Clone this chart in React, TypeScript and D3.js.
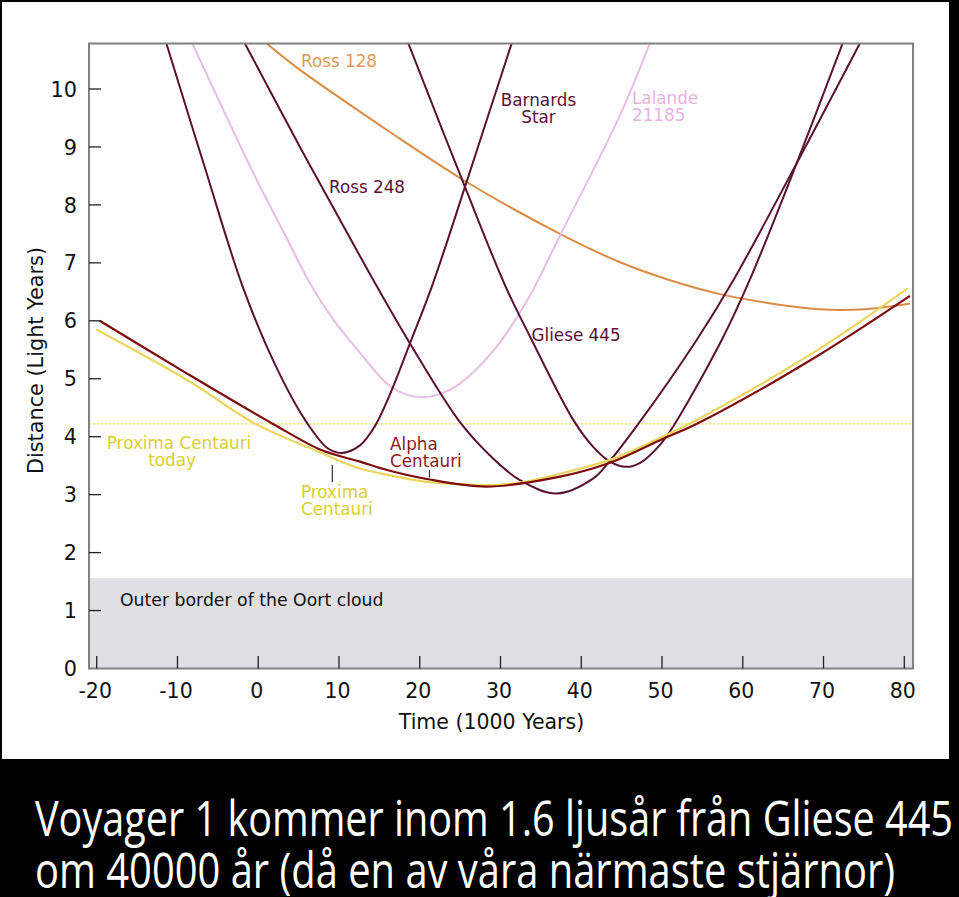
import React from "react";
import * as d3 from "d3";

// ---- Data (time in 1000 years, distance in light years) ----
const xTicks = [-20, -10, 0, 10, 20, 30, 40, 50, 60, 70, 80];
const yTicks = [0, 1, 2, 3, 4, 5, 6, 7, 8, 9, 10];

const ross128: [number, number][] = [
  [1.0, 10.79], [5.17, 10.33], [13.43, 9.53], [16.07, 9.28], [25.39, 8.43],
  [37.37, 7.5], [44.8, 7.01], [51.0, 6.7], [57.18, 6.46], [63.5, 6.3],
  [69.56, 6.2], [75.0, 6.2], [80.7, 6.3],
];

const barnardsStar: [number, number][] = [
  [-11.38, 10.79], [-6.6, 8.64], [-1.9, 6.58], [2.0, 5.27], [5.8, 4.29],
  [8.6, 3.8], [10.3, 3.72], [12.6, 3.85], [14.4, 4.17], [16.1, 4.66],
  [18.79, 5.61], [21.6, 6.63], [25.6, 8.31], [29.1, 9.81], [31.39, 10.79],
];

const lalande21185: [number, number][] = [
  [-8.16, 10.79], [-0.5, 8.52], [3.0, 7.57], [6.6, 6.6], [9.5, 5.98],
  [12.3, 5.5], [16.07, 4.9], [18.3, 4.73], [20.35, 4.68], [22.4, 4.73],
  [25.0, 4.92], [29.1, 5.48], [33.3, 6.35], [37.4, 7.48], [44.8, 9.55],
  [48.5, 10.79],
];

const ross248: [number, number][] = [
  [-1.67, 10.79], [5.17, 9.0], [7.8, 8.33], [14.83, 6.56], [18.79, 5.61],
  [24.98, 4.25], [29.11, 3.62], [32.41, 3.25], [36.96, 3.02], [41.49, 3.28],
  [43.35, 3.55], [47.06, 4.22], [54.29, 5.67], [58.83, 6.7], [66.68, 8.72],
  [74.51, 10.79],
];

const gliese445: [number, number][] = [
  [18.58, 10.79], [25.6, 8.31], [30.6, 6.6], [33.65, 5.73], [39.01, 4.29],
  [41.5, 3.82], [43.56, 3.57], [45.5, 3.48], [47.3, 3.55], [49.75, 3.86],
  [51.4, 4.18], [57.39, 5.67], [60.9, 6.72], [66.68, 8.72], [72.37, 10.79],
];

const proximaCentauri: [number, number][] = [
  [-20.05, 5.85], [-8.7, 4.97], [-0.44, 4.23], [7.8, 3.72], [12.6, 3.45],
  [16.07, 3.34], [20.86, 3.22], [25.0, 3.18], [28.29, 3.16], [33.0, 3.22],
  [37.37, 3.36], [43.56, 3.6], [49.75, 3.98], [54.7, 4.32], [68.73, 5.45],
  [80.42, 6.56],
];

const alphaCentauri: [number, number][] = [
  [-19.63, 6.0], [-8.7, 5.08], [1.83, 4.22], [7.81, 3.77], [12.6, 3.57],
  [16.07, 3.42], [20.86, 3.27], [28.29, 3.14], [37.37, 3.31], [43.56, 3.55],
  [49.75, 3.94], [54.7, 4.25], [68.73, 5.35], [80.7, 6.43],
];

const oortCloudEdge = 1.56;
const proximaToday = 4.22;

const xTitle = "Time (1000 Years)";
const yTitle = "Distance (Light Years)";
const caption1 = "Voyager 1 kommer inom 1.6 ljusår från Gliese 445";
const caption2 = "om 40000 år (då en av våra närmaste stjärnor)";

// ---- Layout ----
const W = 959;
const H = 897;
const plot = { left: 89, right: 913, top: 43.5, bottom: 668.5 };
const x = d3.scaleLinear().domain([-20, 80]).range([96.7, 904.3]);
const y = d3.scaleLinear().domain([0, 10]).range([668.5, 89]);

const PLUM = "#5a1233";
const FONT = "'DejaVu Sans', Verdana, sans-serif";
const CAPTION_FONT = "'Liberation Sans Narrow', 'Open Sans', sans-serif";

const series = [
  { name: "Ross 128", data: ross128, color: "#d98c45", width: 2 },
  { name: "Lalande 21185", data: lalande21185, color: "#e8bde3", width: 2 },
  { name: "Barnards Star", data: barnardsStar, color: PLUM, width: 2 },
  { name: "Ross 248", data: ross248, color: PLUM, width: 2 },
  { name: "Gliese 445", data: gliese445, color: PLUM, width: 2 },
  { name: "Proxima Centauri", data: proximaCentauri, color: "#ebd55e", width: 2.2 },
  { name: "Alpha Centauri", data: alphaCentauri, color: "#7f0c0c", width: 2.2 },
];

const line = d3
  .line<[number, number]>()
  .x((d) => x(d[0]))
  .y((d) => y(d[1]))
  .curve(d3.curveCatmullRom.alpha(0.5));

export default function App() {
  const labelSize = 16.8;
  return (
    <svg
      width={W}
      height={H}
      style={{ position: "absolute", left: 0, top: 0, display: "block" }}
      xmlns="http://www.w3.org/2000/svg"
    >
      <defs>
        <clipPath id="plotClip">
          <rect
            x={plot.left}
            y={plot.top}
            width={plot.right - plot.left}
            height={plot.bottom - plot.top}
          />
        </clipPath>
      </defs>
      <rect x={0} y={0} width={W} height={H} fill="#000" />
      <rect x={2} y={2} width={947} height={757} fill="#fff" />

      {/* Oort cloud band */}
      <rect
        x={plot.left}
        y={y(oortCloudEdge)}
        width={plot.right - plot.left}
        height={y(0) - y(oortCloudEdge)}
        fill="#e0dfe4"
      />
      <text x={120} y={606} fontFamily={FONT} fontSize={17.3} fill="#111">
        Outer border of the Oort cloud
      </text>

      {/* Proxima today dotted line */}
      <line
        x1={plot.left}
        x2={plot.right}
        y1={y(proximaToday)}
        y2={y(proximaToday)}
        stroke="#e3d835"
        strokeWidth={1}
        strokeDasharray="2.5,1.5"
      />

      <g clipPath="url(#plotClip)">
        {series.map((s) => (
          <path
            key={s.name}
            d={line(s.data) || ""}
            fill="none"
            stroke={s.color}
            strokeWidth={s.width}
          />
        ))}
      </g>

      {/* Frame */}
      <rect
        x={plot.left}
        y={plot.top}
        width={plot.right - plot.left}
        height={plot.bottom - plot.top}
        fill="none"
        stroke="#808080"
        strokeWidth={2}
      />

      {/* Y ticks */}
      {yTicks.map((t) => (
        <g key={"y" + t}>
          {t > 0 && (
            <line x1={plot.left} x2={plot.left + 12} y1={y(t)} y2={y(t)} stroke="#222" strokeWidth={1.3} />
          )}
          <text
            x={77}
            y={y(t) + 7.6}
            textAnchor="end"
            fontFamily={FONT}
            fontSize={20.8}
            fill="#111"
          >
            {t}
          </text>
        </g>
      ))}

      {/* X ticks */}
      {xTicks.map((t) => (
        <g key={"x" + t}>
          <line x1={x(t)} x2={x(t)} y1={plot.bottom} y2={plot.bottom - 12.5} stroke="#222" strokeWidth={1.3} />
          <text
            x={x(t) - 1.5}
            y={697.5}
            textAnchor="middle"
            fontFamily={FONT}
            fontSize={20.5}
            fill="#111"
          >
            {t}
          </text>
        </g>
      ))}

      {/* Axis titles */}
      <text x={491.5} y={729} textAnchor="middle" fontFamily={FONT} fontSize={20.5} fill="#111">
        {xTitle}
      </text>
      <text
        transform="translate(43,360.5) rotate(-90)"
        textAnchor="middle"
        fontFamily={FONT}
        fontSize={20.8}
        fill="#111"
      >
        {yTitle}
      </text>

      {/* Series labels */}
      <text x={301} y={67} fontFamily={FONT} fontSize={labelSize} fill="#dd9a5a">
        Ross 128
      </text>
      <text textAnchor="middle" fontFamily={FONT} fontSize={labelSize} fill={PLUM}>
        <tspan x={538.5} y={106}>Barnards</tspan>
        <tspan x={538.5} y={123}>Star</tspan>
      </text>
      <text fontFamily={FONT} fontSize={labelSize} fill="#e6b3e0">
        <tspan x={632} y={104}>Lalande</tspan>
        <tspan x={632} y={121}>21185</tspan>
      </text>
      <text x={329} y={193} fontFamily={FONT} fontSize={labelSize} fill={PLUM}>
        Ross 248
      </text>
      <text x={531.5} y={341} fontFamily={FONT} fontSize={labelSize} fill={PLUM}>
        Gliese 445
      </text>
      <text fontFamily={FONT} fontSize={labelSize} fill="#8a1a1a">
        <tspan x={390} y={449.5}>Alpha</tspan>
        <tspan x={390} y={467}>Centauri</tspan>
      </text>
      <line x1={429.5} x2={429.5} y1={470} y2={477.5} stroke="#333" strokeWidth={1.2} />
      <text textAnchor="middle" fontFamily={FONT} fontSize={labelSize} fill="#d9cf2e">
        <tspan x={179} y={449}>Proxima Centauri</tspan>
        <tspan x={172} y={466}>today</tspan>
      </text>
      <text fontFamily={FONT} fontSize={labelSize} fill="#d9cf2e">
        <tspan x={301} y={498}>Proxima</tspan>
        <tspan x={301} y={515}>Centauri</tspan>
      </text>
      <line x1={332.3} x2={332.3} y1={465} y2={482} stroke="#333" strokeWidth={1.2} />

      {/* Caption */}
      <text
        x={35}
        y={836}
        fontFamily={CAPTION_FONT}
        fontSize={50}
        fill="#fff"
        textLength={918}
        lengthAdjust="spacingAndGlyphs"
      >
        {caption1}
      </text>
      <text
        x={35}
        y={888}
        fontFamily={CAPTION_FONT}
        fontSize={50}
        fill="#fff"
        textLength={860}
        lengthAdjust="spacingAndGlyphs"
      >
        {caption2}
      </text>
    </svg>
  );
}
